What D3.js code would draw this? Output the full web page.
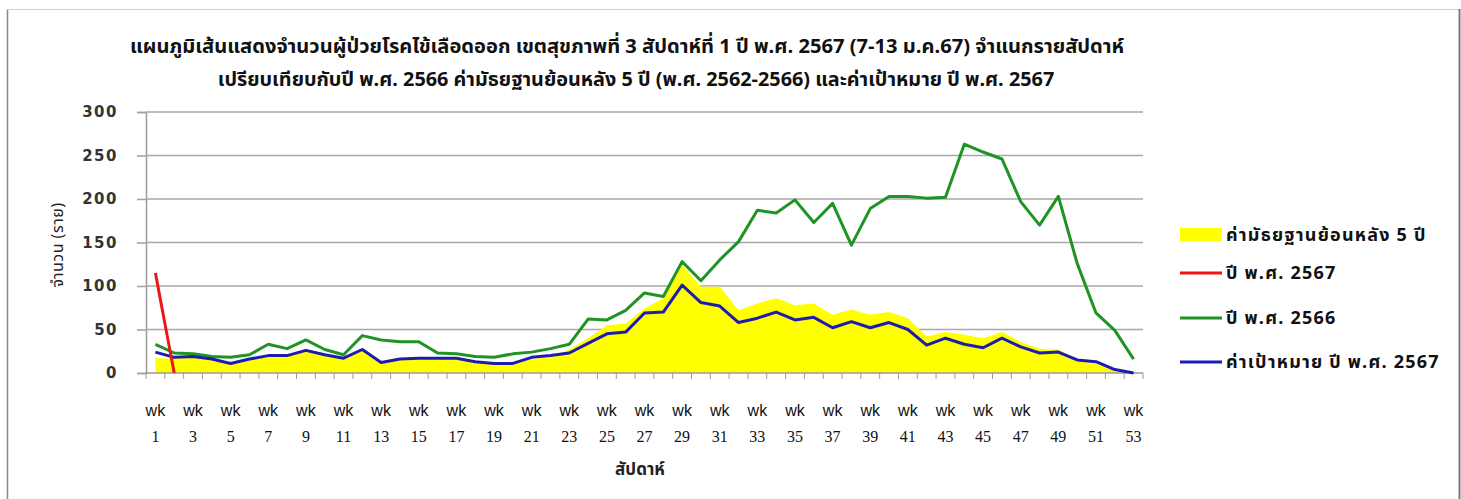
<!DOCTYPE html>
<html>
<head>
<meta charset="utf-8">
<script src="https://cdn.jsdelivr.net/npm/d3@7"></script>
<style>
  body { margin: 0; background: #fff; }
  text { font-family: "Noto Sans Thai", "Noto Sans", "DejaVu Sans", sans-serif; }
</style>
</head>
<body>
<div id="chart"></div>
<script>
"use strict";

// สัปดาห์ 1-53
const weeks = d3.range(1, 54);
// ค่ามัธยฐานย้อนหลัง 5 ปี (พ.ศ. 2562-2566)
const median5 = [17, 17, 18, 15, 12, 15, 19, 20, 26, 20, 16, 26, 11, 15, 16, 16, 16, 12, 10, 10,
    16, 18, 27, 40, 55, 57, 74, 86, 124, 99, 99, 72, 80, 86, 78, 80, 67, 73, 67, 70,
    63, 42, 47, 44, 40, 47, 36, 28, 27, 15, 11, 2, 0];
// ปี พ.ศ. 2567 (มีข้อมูลถึงสัปดาห์ที่ 2)
const y2567 = [115, 0];
// ปี พ.ศ. 2566
const y2566 = [33, 23, 22, 19, 18, 21, 33, 28, 38, 27, 21, 43, 38, 36, 36, 23, 22, 19, 18, 22,
    24, 28, 33, 62, 61, 72, 92, 88, 128, 106, 130, 151, 187, 184, 199, 173, 195, 147, 189, 203,
    203, 201, 202, 263, 254, 246, 197, 170, 203, 126, 69, 49, 16];
// ค่าเป้าหมาย ปี พ.ศ. 2567
const target2567 = [24, 18, 19, 16, 11, 16, 20, 20, 26, 21, 17, 27, 12, 16, 17, 17, 17, 13, 11, 11,
    18, 20, 23, 34, 45, 47, 69, 70, 101, 81, 77, 58, 63, 70, 61, 64, 52, 59, 52, 58,
    50, 32, 40, 33, 29, 40, 30, 23, 24, 15, 13, 4, 0];
const yTicks = [0, 50, 100, 150, 200, 250, 300];

const titulo1 = "แผนภูมิเส้นแสดงจำนวนผู้ป่วยโรคไข้เลือดออก เขตสุขภาพที่ 3 สัปดาห์ที่ 1 ปี พ.ศ. 2567 (7-13 ม.ค.67) จำแนกรายสัปดาห์";
const titulo2 = "เปรียบเทียบกับปี พ.ศ. 2566 ค่ามัธยฐานย้อนหลัง 5 ปี (พ.ศ. 2562-2566) และค่าเป้าหมาย ปี พ.ศ. 2567";

const W = 1461, H = 499;
const margin = { top: 112, left: 146, right: 318, bottom: 126 };

const svg = d3.select("#chart").append("svg")
    .attr("width", W)
    .attr("height", H);

// marco de la hoja
svg.append("line").attr("x1", 7.5).attr("x2", 7.5).attr("y1", 9).attr("y2", H)
    .attr("stroke", "#8a8a8a").attr("stroke-width", 1.5);
svg.append("line").attr("x1", 7).attr("x2", 1459).attr("y1", 9.5).attr("y2", 9.5)
    .attr("stroke", "#d0d0d0").attr("stroke-width", 1);
svg.append("line").attr("x1", 1459.5).attr("x2", 1459.5).attr("y1", 9).attr("y2", H)
    .attr("stroke", "#7a7a7a").attr("stroke-width", 2);

const x = d3.scaleBand()
    .domain(weeks)
    .range([margin.left, W - margin.right])
    .padding(0);
const cx = (w) => x(w) + x.bandwidth() / 2;

const y = d3.scaleLinear()
    .domain([0, 300])
    .range([H - margin.bottom, margin.top]);

// grid + eje y
const gy = svg.append("g")
    .attr("transform", "translate(" + margin.left + ",0)")
    .call(d3.axisLeft(y).tickValues(yTicks).tickSize(9).tickPadding(19));
gy.select(".domain").attr("stroke", "#9a9a9a").attr("stroke-width", 1.5);
gy.selectAll(".tick line").attr("stroke", "#a0a0a0").attr("stroke-width", 1.5);
gy.selectAll(".tick text")
    .attr("fill", "#333")
    .style("font-family", "'DejaVu Sans', Verdana, sans-serif")
    .style("font-weight", "bold")
    .style("font-size", "15px")
    .style("letter-spacing", "1.5px");

svg.append("g")
    .attr("class", "grid")
    .selectAll("line")
    .data(yTicks.filter(d => d > 0))
    .enter().append("line")
    .attr("x1", margin.left)
    .attr("x2", W - margin.right)
    .attr("y1", d => y(d))
    .attr("y2", d => y(d))
    .attr("stroke", "#a8a8a8")
    .attr("stroke-width", 1.5);

// area mediana
const area = d3.area()
    .x((d, i) => cx(weeks[i]))
    .y0(y(0))
    .y1(d => y(d));
svg.append("path")
    .datum(median5)
    .attr("d", area)
    .attr("fill", "#ffff00");

// eje x
svg.append("line")
    .attr("x1", margin.left).attr("x2", W - margin.right)
    .attr("y1", y(0)).attr("y2", y(0))
    .attr("stroke", "#9a9a9a").attr("stroke-width", 1.5);
const bordes = weeks.map(w => x(w)).concat([W - margin.right]);
svg.append("g").selectAll("line")
    .data(bordes)
    .enter().append("line")
    .attr("x1", d => d).attr("x2", d => d)
    .attr("y1", y(0)).attr("y2", y(0) + 6)
    .attr("stroke", "#9a9a9a").attr("stroke-width", 1);

const etiquetas = svg.append("g").selectAll("g")
    .data(weeks.filter(w => w % 2 == 1))
    .enter().append("g")
    .attr("transform", d => "translate(" + cx(d) + ",0)");
etiquetas.append("text")
    .attr("y", 416)
    .attr("text-anchor", "middle")
    .style("font-family", "'Liberation Sans', Arial, sans-serif")
    .style("font-size", "16px")
    .attr("fill", "#111")
    .text("wk");
etiquetas.append("text")
    .attr("y", 442)
    .attr("text-anchor", "middle")
    .style("font-family", "'Liberation Serif', 'Times New Roman', serif")
    .style("font-size", "16px")
    .attr("fill", "#111")
    .text(d => d);

// lineas
const linea = d3.line()
    .x((d, i) => cx(weeks[i]))
    .y(d => y(d));

const series = [
    { datos: y2566, color: "#1f9424" },
    { datos: target2567, color: "#1c1cb0" },
    { datos: y2567, color: "#ee1515" }
];
series.forEach(function (s) {
    svg.append("path")
        .datum(s.datos)
        .attr("d", linea)
        .attr("fill", "none")
        .attr("stroke", s.color)
        .attr("stroke-width", 3)
        .attr("stroke-linejoin", "round");
});

// titulos
function ajustar(sel, ancho) {
    let largo = sel.node().getComputedTextLength();
    let size = parseFloat(sel.style("font-size"));
    sel.style("font-size", (size * ancho / largo) + "px");
}

const t1 = svg.append("text")
    .attr("x", 627).attr("y", 53)
    .attr("text-anchor", "middle")
    .style("font-weight", "bold").style("font-size", "15px")
    .attr("fill", "#111")
    .text(titulo1);
ajustar(t1, 995);
const t2 = svg.append("text")
    .attr("x", 636).attr("y", 86)
    .attr("text-anchor", "middle")
    .style("font-weight", "bold").style("font-size", "15px")
    .attr("fill", "#111")
    .text(titulo2);
ajustar(t2, 837);

svg.append("text")
    .attr("transform", "translate(63,245) rotate(-90)")
    .attr("text-anchor", "middle")
    .style("font-size", "16px")
    .style("letter-spacing", "0.5px")
    .attr("fill", "#222")
    .text("จำนวน (ราย)");

svg.append("text")
    .attr("x", 640).attr("y", 475)
    .attr("text-anchor", "middle")
    .style("font-weight", "bold")
    .style("font-size", "17px")
    .attr("fill", "#222")
    .text("สัปดาห์");

// leyenda
const leyendaDatos = [
    { titulo: "ค่ามัธยฐานย้อนหลัง 5 ปี", color: "#ffff00", tipo: "area", cy: 235 },
    { titulo: "ปี พ.ศ. 2567", color: "#ee1515", tipo: "linea", cy: 273 },
    { titulo: "ปี พ.ศ. 2566", color: "#1f9424", tipo: "linea", cy: 318 },
    { titulo: "ค่าเป้าหมาย ปี พ.ศ. 2567", color: "#1c1cb0", tipo: "linea", cy: 362 }
];
const leyenda = svg.selectAll(".leyenda")
    .data(leyendaDatos)
    .enter().append("g")
    .attr("class", "leyenda")
    .attr("transform", d => "translate(1180," + d.cy + ")");
leyenda.filter(d => d.tipo == "area").append("rect")
    .attr("x", 0).attr("y", -7).attr("width", 42).attr("height", 13)
    .attr("fill", d => d.color);
leyenda.filter(d => d.tipo == "linea").append("line")
    .attr("x1", 0).attr("x2", 42).attr("y1", 0).attr("y2", 0)
    .attr("stroke", d => d.color).attr("stroke-width", 3);
leyenda.append("text")
    .attr("x", 46)
    .attr("dy", "0.35em")
    .style("font-weight", "bold")
    .style("font-size", "18px")
    .style("letter-spacing", "1.2px")
    .attr("fill", "#111")
    .text(d => d.titulo);
</script>
</body>
</html>
